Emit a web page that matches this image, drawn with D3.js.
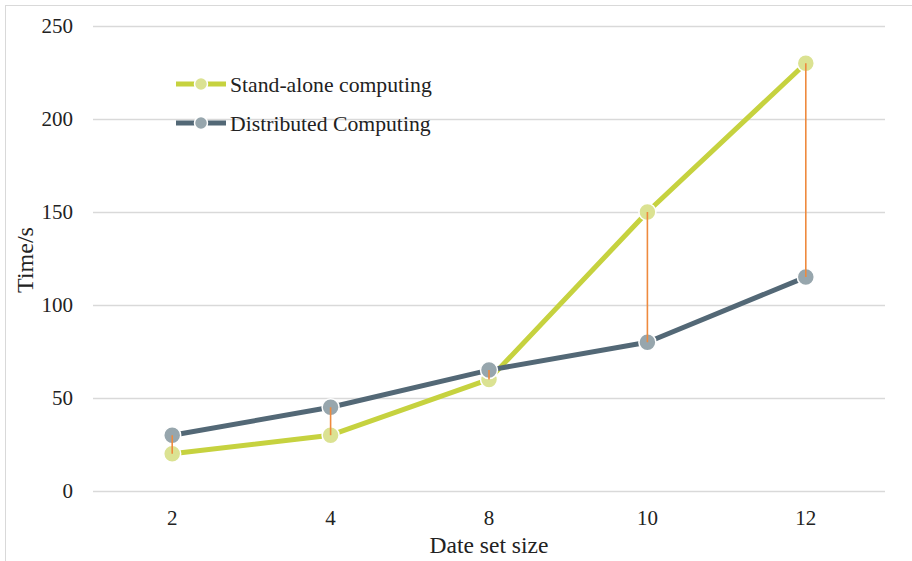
<!DOCTYPE html>
<html>
<head>
<meta charset="utf-8">
<script src="https://cdn.jsdelivr.net/npm/d3@7"></script>
<style>
  body { margin: 0; background: #fff; }
  svg { display: block; font-family: "Liberation Serif", "Times New Roman", serif; }
</style>
</head>
<body>
<svg id="chart" width="912" height="561"></svg>
<script>
const categories = ["2", "4", "8", "10", "12"];
const standAlone = [20, 30, 60, 150, 230];
const distributed = [30, 45, 65, 80, 115];
const yTicks = [0, 50, 100, 150, 200, 250];
const seriesNames = ["Stand-alone computing", "Distributed Computing"];

const svg = d3.select("#chart");
const margin = { left: 93, right: 27, top: 26, bottom: 70 };
const W = 912, H = 561;
const FONT = "Liberation Serif";

svg.append("rect").attr("x", 5.5).attr("y", 5.5).attr("width", 930).attr("height", 580)
  .attr("fill", "#fff").attr("stroke", "#d9d9d9").attr("stroke-width", 1);

const x = d3.scaleBand().domain(categories).range([margin.left, W - margin.right]).padding(0);
const y = d3.scaleLinear().domain([0, 250]).range([H - margin.bottom, margin.top]);
const cx = d => x(d) + x.bandwidth() / 2;

// gridlines
const yAxis = d3.axisLeft(y).tickValues(yTicks).tickSize(-(W - margin.right - margin.left)).tickPadding(20);
const gy = svg.append("g").attr("transform", `translate(${margin.left},0)`).call(yAxis)
  .attr("font-family", FONT).attr("font-size", 21);
gy.select(".domain").remove();
gy.selectAll(".tick line").attr("stroke", "#d9d9d9").attr("stroke-width", 1.3);
gy.selectAll(".tick text").attr("fill", "#222");

const xAxis = d3.axisBottom(x).tickSize(0).tickPadding(19);
const gx = svg.append("g").attr("transform", `translate(0,${H - margin.bottom})`).call(xAxis)
  .attr("font-family", FONT).attr("font-size", 21);
gx.select(".domain").remove();
gx.selectAll(".tick text").attr("fill", "#222");

svg.append("text").attr("x", 489).attr("y", 553)
  .attr("text-anchor", "middle").attr("font-size", 23.5).attr("fill", "#222").text("Date set size");
svg.append("text").attr("transform", `translate(33,260) rotate(-90)`)
  .attr("text-anchor", "middle").attr("font-size", 24).attr("fill", "#222").text("Time/s");

const line = d3.line().x((d, i) => cx(categories[i])).y(d => y(d));
const series = [
  { name: seriesNames[0], values: standAlone, color: "#c6d23f", marker: "#dbe292" },
  { name: seriesNames[1], values: distributed, color: "#536876", marker: "#97a6ad" }
];

series.forEach(s => {
  svg.append("path").datum(s.values).attr("d", line).attr("fill", "none")
    .attr("stroke", s.color).attr("stroke-width", 5).attr("stroke-linejoin", "round");
  svg.append("g").selectAll("circle").data(s.values).join("circle")
    .attr("cx", (d, i) => cx(categories[i])).attr("cy", d => y(d)).attr("r", 8.5)
    .attr("fill", s.marker).attr("stroke", "#fff").attr("stroke-width", 1.5);
});

// high-low lines
svg.append("g").selectAll("line").data(categories).join("line")
  .attr("x1", d => cx(d)).attr("x2", d => cx(d))
  .attr("y1", (d, i) => y(standAlone[i])).attr("y2", (d, i) => y(distributed[i]))
  .attr("stroke", "#ee8a3e").attr("stroke-width", 1.6);

// legend
const lg = svg.append("g");
series.forEach((s, i) => {
  const ly = 84 + i * 39;
  lg.append("line").attr("x1", 176).attr("x2", 226).attr("y1", ly).attr("y2", ly)
    .attr("stroke", s.color).attr("stroke-width", 5);
  lg.append("circle").attr("cx", 201).attr("cy", ly).attr("r", 6.5)
    .attr("fill", s.marker).attr("stroke", "#fff").attr("stroke-width", 1.5);
  lg.append("text").attr("x", 230).attr("y", ly + 7.5).attr("font-size", 21.7).attr("fill", "#222").text(s.name);
});
</script>
</body>
</html>
